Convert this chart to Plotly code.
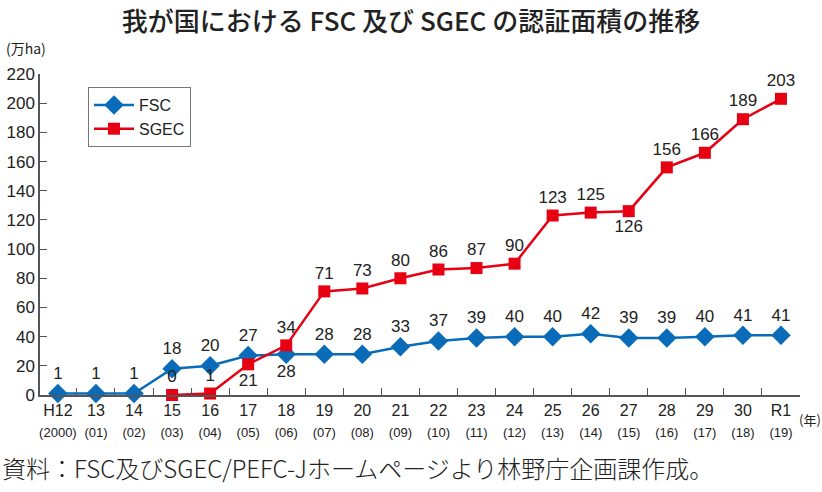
import plotly.graph_objects as go

years = ["H12", "13", "14", "15", "16", "17", "18", "19", "20", "21",
         "22", "23", "24", "25", "26", "27", "28", "29", "30", "R1"]
western = ["2000", "01", "02", "03", "04", "05", "06", "07", "08", "09",
           "10", "11", "12", "13", "14", "15", "16", "17", "18", "19"]
fsc = [1, 1, 1, 18, 20, 27, 28, 28, 28, 33, 37, 39, 40, 40, 42, 39, 39, 40, 41, 41]
sgec = [None, None, None, 0, 1, 21, 34, 71, 73, 80, 86, 87, 90, 123, 125, 126, 156, 166, 189, 203]
sgec_below = {"17", "27"}
fsc_below = {"18"}
y_ticks = list(range(0, 221, 20))

FONT = "Liberation Sans, Arial, Noto Sans CJK JP, sans-serif"
JFONT = "Noto Sans CJK JP, Liberation Sans, sans-serif"
BLUE = "#0a6cb8"
RED = "#e60012"

W, H = 822, 492
L, R, T, B = 40, 22, 74, 97

xlabels = [f"{y}<br><span style='font-size:13px;font-family:Liberation Sans Narrow, Liberation Sans'>({w})</span>"
           for y, w in zip(years, western)]

fig = go.Figure()
fig.add_trace(go.Scatter(
    x=years, y=fsc, name="FSC", mode="lines+markers+text",
    line=dict(color=BLUE, width=2.5),
    marker=dict(symbol="diamond", size=15, color=BLUE),
    text=[str(v) for v in fsc],
    textposition=["bottom center" if y in fsc_below else "top center" for y in years],
    textfont=dict(size=17, color="#222", family=FONT),
    cliponaxis=False,
))
fig.add_trace(go.Scatter(
    x=years, y=sgec, name="SGEC", mode="lines+markers+text",
    line=dict(color=RED, width=2.5),
    marker=dict(symbol="square", size=12, color=RED),
    text=["" if v is None else str(v) for v in sgec],
    textposition=["bottom center" if y in sgec_below else "top center" for y in years],
    textfont=dict(size=17, color="#222", family=FONT),
    cliponaxis=False,
))

pw = W - L - R
ph = H - T - B

def px(x):
    return (x - L) / pw

def py(y):
    return (H - B - y) / ph

fig.update_layout(
    width=W, height=H,
    margin=dict(l=L, r=R, t=T, b=B, autoexpand=False),
    paper_bgcolor="white", plot_bgcolor="white",
    font=dict(family=FONT, size=17, color="#222"),
    title=dict(text="我が国における FSC 及び SGEC の認証面積の推移",
               x=0.5, xanchor="center", y=1 - 22 / H, yanchor="middle",
               font=dict(family=JFONT, size=26, color="#222", weight=500)),
    showlegend=True,
    legend=dict(x=px(88), y=py(87), xanchor="left", yanchor="top",
                bordercolor="#777", borderwidth=1, bgcolor="white",
                font=dict(size=16, family=FONT), itemwidth=40,
                tracegroupgap=0),
    xaxis=dict(type="category", range=[-0.47, 19.5], automargin=False,
               tickmode="array", tickvals=years, ticktext=xlabels, tickangle=0,
               tickson="boundaries", ticks="inside", ticklen=7,
               tickcolor="#555", showline=True, linecolor="#555", linewidth=1.5,
               showgrid=False, zeroline=False,
               tickfont=dict(size=16, family=FONT, color="#222")),
    yaxis=dict(range=[0, 220], tickvals=y_ticks, ticks="inside", ticklen=7,
               automargin=False,
               tickcolor="#555", showline=True, linecolor="#555", linewidth=1.5,
               showgrid=False, zeroline=False,
               tickfont=dict(size=17, family=FONT, color="#222")),
    annotations=[
        dict(text="(万ha)", xref="paper", yref="paper", x=px(4), y=py(48),
             xanchor="left", yanchor="middle", showarrow=False,
             font=dict(size=14, family=JFONT, color="#222")),
        dict(text="(年)", xref="paper", yref="paper", x=px(797), y=py(420),
             xanchor="left", yanchor="middle", showarrow=False,
             font=dict(size=13, family=JFONT, color="#222")),
        dict(text="資料：FSC及びSGEC/PEFC-Jホームページより林野庁企画課作成。",
             xref="paper", yref="paper", x=px(0), y=py(467),
             xanchor="left", yanchor="middle", showarrow=False,
             font=dict(size=24, family=JFONT, color="#222", weight=300)),
    ],
)

fig.write_html("out.html", config={"displayModeBar": False},
               post_script="document.body.style.margin='0';document.body.style.overflow='hidden';")
